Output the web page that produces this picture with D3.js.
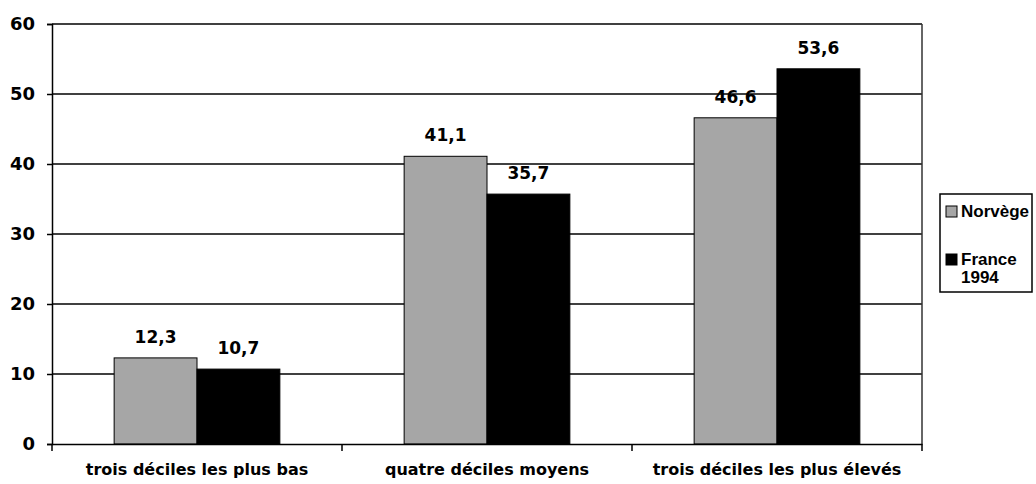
<!DOCTYPE html>
<html><head><meta charset="utf-8">
<script src="https://cdn.jsdelivr.net/npm/d3@7"></script>
<style>body{margin:0;background:#fff}svg{display:block}</style>
</head><body>
<svg id="c" width="1036" height="484"></svg>
<script>
const categories = ["trois déciles les plus bas", "quatre déciles moyens", "trois déciles les plus élevés"];
const seriesNames = ["Norvège", "France 1994"];
const norvege = [12.3, 41.1, 46.6];
const france = [10.7, 35.7, 53.6];
const yTicks = [0, 10, 20, 30, 40, 50, 60];
const colors = ["#a6a6a6", "#000000"];

const svg = d3.select("#c");
const m = {l: 52, r: 922, t: 24, b: 444};
const x = d3.scaleBand().domain(categories).range([m.l, m.r]).paddingInner(0).paddingOuter(0);
const y = d3.scaleLinear().domain([0, 60]).range([m.b, m.t]);
const bw = x.bandwidth() / 3.5;
const xs = d3.scaleBand().domain(seriesNames).range([0, 2 * bw]);
const font = "'DejaVu Sans', Verdana, sans-serif";

// gridlines
svg.append("g").selectAll("line").data(yTicks.filter(d => d > 0)).join("line")
  .attr("x1", m.l).attr("x2", m.r).attr("y1", d => y(d)).attr("y2", d => y(d))
  .attr("stroke", "#000").attr("stroke-width", 1.3);
// right border
svg.append("line").attr("x1", m.r).attr("x2", m.r).attr("y1", m.t).attr("y2", m.b)
  .attr("stroke", "#333").attr("stroke-width", 1.5);

const data = seriesNames.map((s, i) => ({name: s, values: i === 0 ? norvege : france}));
data.forEach((s, i) => {
  const g = svg.append("g");
  g.selectAll("rect").data(s.values).join("rect")
    .attr("x", (d, j) => x(categories[j]) + (x.bandwidth() - 2 * bw) / 2 + xs(s.name))
    .attr("y", d => y(d)).attr("width", bw).attr("height", d => y(0) - y(d))
    .attr("fill", colors[i]).attr("stroke", "#000").attr("stroke-width", 1);
  g.selectAll("text").data(s.values).join("text")
    .attr("x", (d, j) => x(categories[j]) + (x.bandwidth() - 2 * bw) / 2 + xs(s.name) + bw / 2)
    .attr("y", d => y(d) - 15)
    .attr("text-anchor", "middle").attr("font-family", font).attr("font-weight", "bold")
    .attr("font-size", 17).text(d => d3.format(".1f")(d).replace(".", ","));
});

// y axis
const ya = svg.append("g").attr("transform", `translate(${m.l},0)`)
  .call(d3.axisLeft(y).tickValues(yTicks).tickSize(5).tickPadding(12).tickFormat(d3.format("d")));
ya.select(".domain").attr("stroke", "#000").attr("stroke-width", 1.5);
ya.selectAll(".tick line").attr("stroke-width", 1.5);
ya.selectAll("text").attr("font-family", font).attr("font-weight", "bold").attr("font-size", 18).attr("fill", "#000");

// x axis
const xa = svg.append("g").attr("transform", `translate(0,${m.b})`)
  .call(d3.axisBottom(x).tickSize(0).tickPadding(20));
xa.select(".domain").attr("stroke", "#000").attr("stroke-width", 1.5);
xa.selectAll("text").attr("font-family", font).attr("font-weight", "bold").attr("font-size", 16).attr("fill", "#000");
svg.append("g").selectAll("line").data([0, 1, 2, 3]).join("line")
  .attr("x1", d => m.l + d * x.bandwidth()).attr("x2", d => m.l + d * x.bandwidth())
  .attr("y1", m.b).attr("y2", m.b + 7).attr("stroke", "#000").attr("stroke-width", 1.5);

// legend
const lg = svg.append("g");
lg.append("rect").attr("x", 940).attr("y", 194).attr("width", 92).attr("height", 98)
  .attr("fill", "#fff").attr("stroke", "#000").attr("stroke-width", 1.5);
const lf = "'Liberation Sans', Arial, sans-serif";
const items = [{lines: ["Norvège"], y: 211}, {lines: ["France", "1994"], y: 259}];
items.forEach((it, i) => {
  lg.append("rect").attr("x", 946).attr("y", it.y - 5).attr("width", 11).attr("height", 11)
    .attr("fill", colors[i]).attr("stroke", "#000").attr("stroke-width", 1);
  it.lines.forEach((t, k) => {
    lg.append("text").attr("x", 961).attr("y", it.y + 6 + k * 18)
      .attr("font-family", lf).attr("font-weight", "bold").attr("font-size", 17).text(t);
  });
});
</script>
</body></html>
